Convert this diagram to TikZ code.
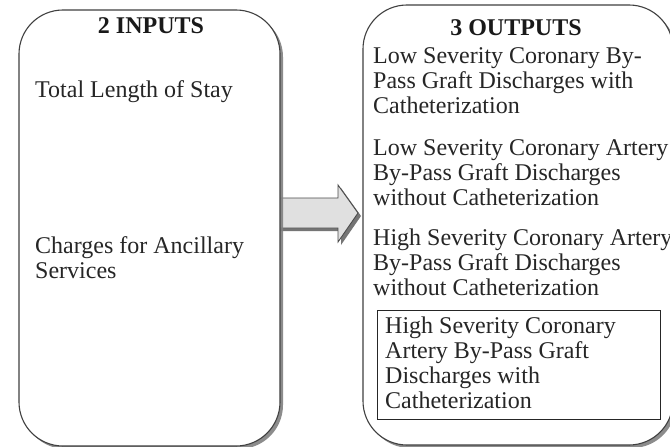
\documentclass[tikz,border=0pt]{standalone}
\usepackage{fontspec}
\setmainfont{Liberation Serif}
\usetikzlibrary{shadows}
\begin{document}
\begin{tikzpicture}[x=1pt, y=-1pt,
  panel/.style={draw=black!75, line width=1.1pt, fill=white, rounded corners=44pt,
    drop shadow={shadow xshift=3pt, shadow yshift=-3pt, fill=black!50, opacity=0.9}},
  blockarrow/.style={draw=black!70, line width=0.9pt, fill=black!12,
    drop shadow={shadow xshift=3pt, shadow yshift=-3pt, fill=black!60, opacity=0.9}},
  framed/.style={draw=black!85, line width=0.8pt},
  head/.style={font=\fontsize{24}{25}\selectfont\bfseries, text=black!90, inner sep=0pt},
  item/.style={font=\fontsize{24}{25}\selectfont, text=black!85, inner sep=0pt,
    align=left, anchor=base west},
]
\useasboundingbox (0,0) rectangle (670,447);
\fill[white] (0,0) rectangle (670,447);

% block arrow between the two panels
\draw[blockarrow] (270,198) -- (338,198) -- (338,185) -- (358,213)
  -- (338,242) -- (338,228) -- (270,228) -- cycle;

% input panel
\node[panel, minimum width=261pt, minimum height=436pt, inner sep=0pt]
  (inputs) at (149.5,228) {};
% output panel
\node[panel, minimum width=310pt, minimum height=440pt, inner sep=0pt]
  (outputs) at (518,225) {};

% headings
\node[head, anchor=base] (inhead) at (151,33) {2 INPUTS};
\node[head, anchor=base] (outhead) at (516,35) {3 OUTPUTS};

% inputs (each node is placed by the baseline of its last line)
\node[item] (in1) at (35,97) {Total Length of Stay};
\node[item] (in2) at (35,278) {Charges for Ancillary\\Services};

% outputs
\node[item] (out1) at (373,113) {Low Severity Coronary By-\\Pass Graft Discharges with\\Catheterization};
\node[item] (out2) at (373,205) {Low Severity Coronary Artery\\By-Pass Graft Discharges\\without Catheterization};
\node[item] (out3) at (373,295) {High Severity Coronary Artery\\By-Pass Graft Discharges\\without Catheterization};
\node[framed, minimum width=283pt, minimum height=109pt, inner sep=0pt]
  (frame) at (518.5,364.5) {};
\node[item] (out4) at (385,408) {High Severity Coronary\\Artery By-Pass Graft\\Discharges with\\Catheterization};
\end{tikzpicture}
\end{document}
